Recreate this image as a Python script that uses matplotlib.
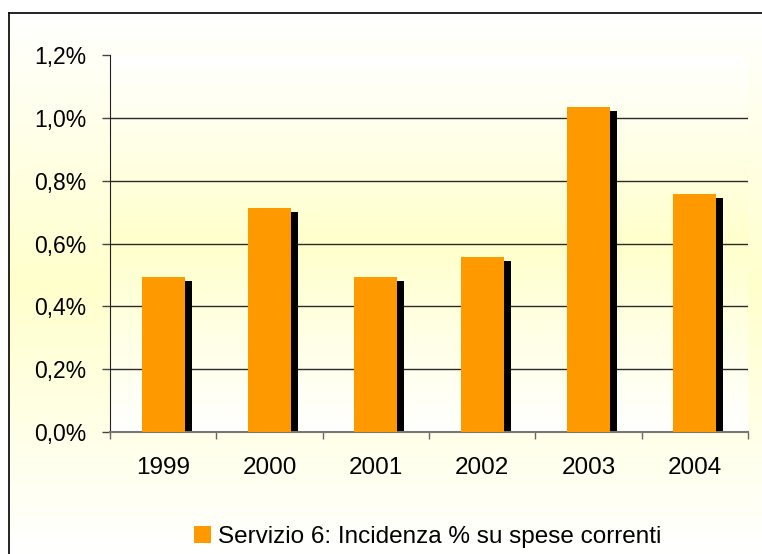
import numpy as np
import matplotlib
matplotlib.use("Agg")
import matplotlib.pyplot as plt
from matplotlib.colors import LinearSegmentedColormap
from matplotlib.ticker import FixedLocator, FuncFormatter

# ---- data ----
years = ["1999", "2000", "2001", "2002", "2003", "2004"]
values = [0.494, 0.712, 0.494, 0.557, 1.035, 0.757]   # percent
y_ticks = [0.0, 0.2, 0.4, 0.6, 0.8, 1.0, 1.2]
legend_label = "Servizio 6: Incidenza % su spese correnti"

W, H = 762, 554
DPI = 100
plt.rcParams['font.family'] = ['Liberation Sans', 'DejaVu Sans']
FS = 16.5
FSX = 17.5
FSL = 17.5

fig = plt.figure(figsize=(W / DPI, H / DPI), dpi=DPI)
fig.patch.set_facecolor('white')

cmap = LinearSegmentedColormap.from_list(
    "wy", [(0, '#FFFFFF'), (0.5, '#FFFFCC'), (1, '#FFFFFF')])
grad = np.linspace(0, 1, 256).reshape(-1, 1)

# figure background (chart area) with border
bx0, by_top = 9, 13
bg = fig.add_axes([bx0 / W, 0, 1 - bx0 / W, 1 - by_top / H], zorder=0)
bg.imshow(grad, cmap=cmap, aspect='auto', extent=[0, 1, 0, 1.0], origin='upper')
bg.set_xlim(0, 1)
bg.set_ylim(0, 1)
bg.set_xticks([])
bg.set_yticks([])
for s in ['right', 'bottom']:
    bg.spines[s].set_visible(False)
bg.spines['left'].set_linewidth(1.2)
bg.spines['top'].set_linewidth(1.2)

# plot area
L, R, T, B = 110, 748, 55, 432
ax = fig.add_axes([L / W, 1 - B / H, (R - L) / W, (B - T) / H], zorder=1)
n = len(years)
x = np.arange(n)
ax.set_xlim(-0.5, n - 0.5)
ax.set_ylim(0, 1.2)
ax.imshow(grad, cmap=cmap, aspect='auto', extent=[-0.5, n - 0.5, 0, 1.2],
          origin='upper', zorder=0)

px_x = (n) / (R - L)          # data units per pixel (x)
px_y = 1.2 / (B - T)          # data units per pixel (y)
bw = 43 * px_x
shadow_dx = 7 * px_x
shadow_dy = 4 * px_y

vals = np.array(values)
ax.bar(x + shadow_dx, vals - shadow_dy, width=bw, color='black', zorder=2)
bars = ax.bar(x, vals, width=bw, color='#FF9900', zorder=3)

# grid
ax.yaxis.set_major_locator(FixedLocator(y_ticks))
ax.yaxis.set_major_formatter(FuncFormatter(lambda v, p: f"{v:.1f}%".replace('.', ',')))
ax.grid(axis='y', color='#2a2a2a', linewidth=1.0, zorder=1)
ax.set_axisbelow(True)
ax.get_ygridlines()[-1].set_visible(False)
ax.get_ygridlines()[0].set_visible(False)

# x ticks at category boundaries, labels at centers
ax.set_xticks(np.arange(-0.5, n, 1.0))
ax.set_xticklabels([])
ax.set_xticks(x, minor=True)
ax.set_xticklabels(years, minor=True)
ax.tick_params(axis='x', which='major', length=5, width=1, color='#666666', direction='out')
ax.tick_params(axis='x', which='minor', length=0, pad=18, labelsize=FSX)
ax.tick_params(axis='y', length=6, width=1, color='#444444', pad=11, labelsize=FS)

for s in ['top', 'right']:
    ax.spines[s].set_visible(False)
ax.spines['left'].set_color('#222222')
ax.spines['bottom'].set_color('#777777')
ax.spines['bottom'].set_linewidth(1.5)

# legend
fig.legend([bars], [legend_label], loc='center left',
           bbox_to_anchor=(194 / W, 1 - 537 / H), frameon=False,
           fontsize=FSL, handlelength=0.7, handleheight=0.7,
           handletextpad=0.27, borderpad=0, borderaxespad=0)

fig.savefig("out.png", dpi=DPI)
